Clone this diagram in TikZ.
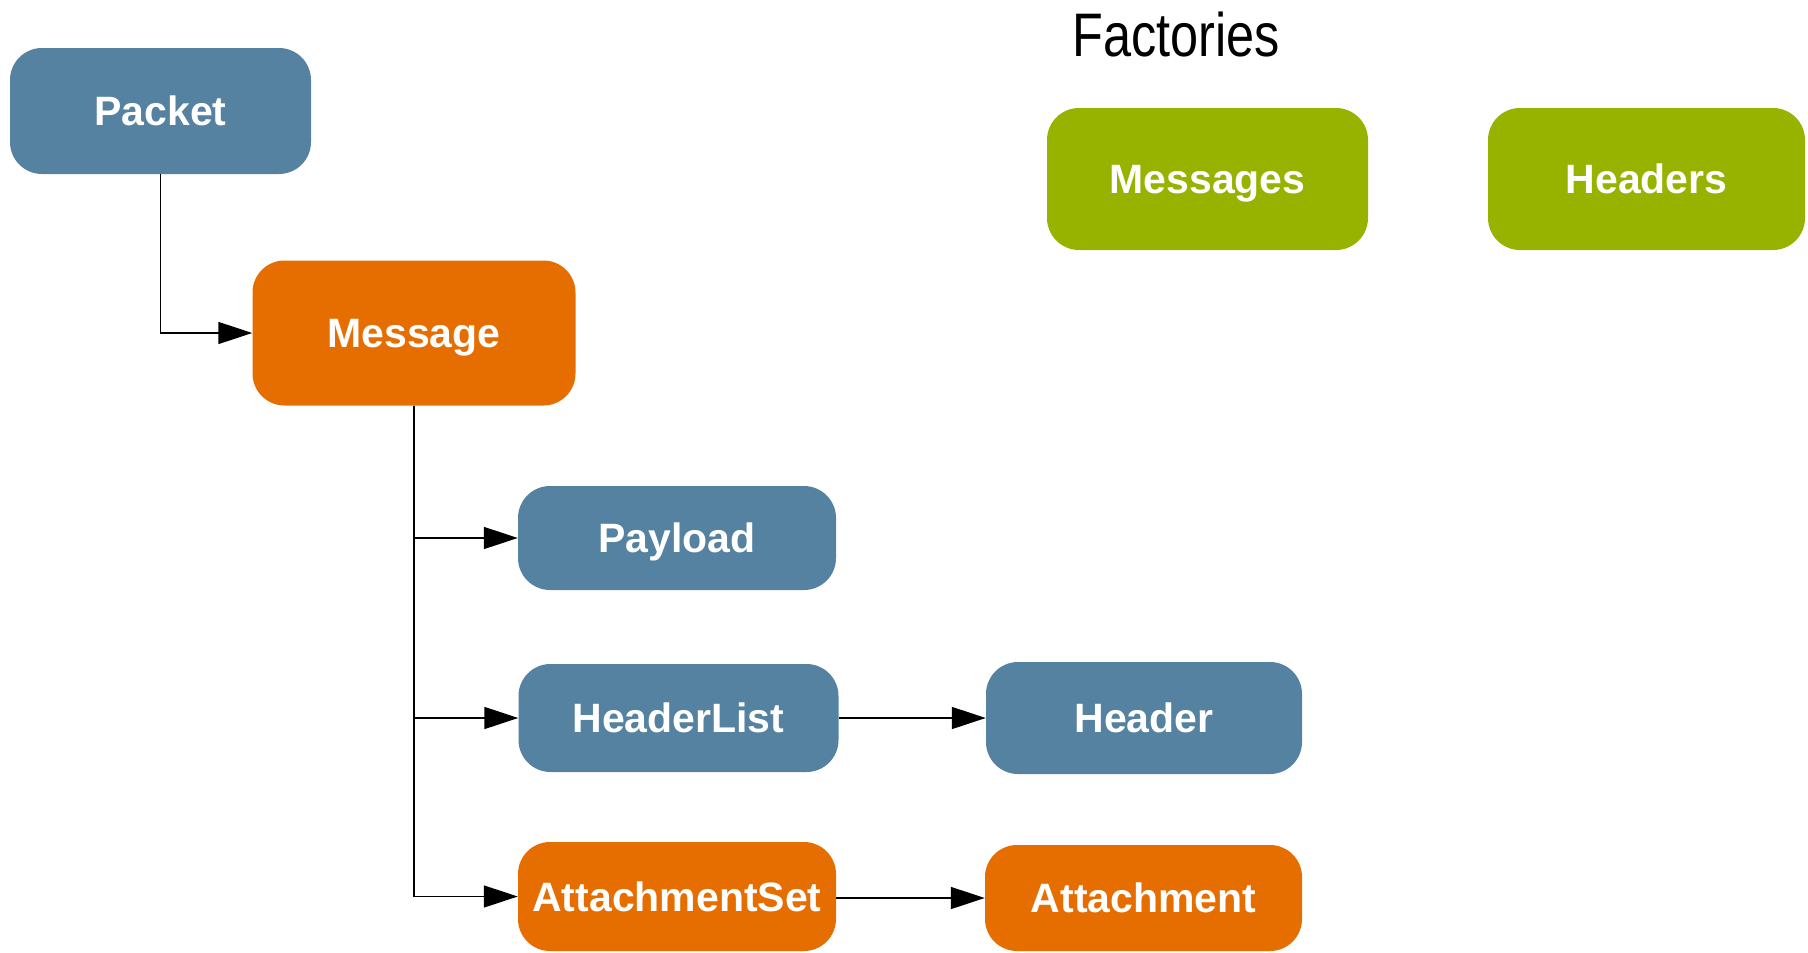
\documentclass[tikz,border=0pt]{standalone}
\usepackage{fontspec}
\setmainfont{Liberation Sans}
\usetikzlibrary{arrows.meta}
\definecolor{cblue}{HTML}{5482A0}
\definecolor{corange}{HTML}{E66E00}
\definecolor{cgreen}{HTML}{97B300}
\tikzset{
  box/.style={rounded corners=32pt, inner sep=0pt, text=white,
    text height=29.5pt, text depth=0pt,
    font=\fontsize{41}{49}\selectfont\bfseries},
  bluebox/.style={box, fill=cblue},
  orangebox/.style={box, fill=corange},
  greenbox/.style={box, fill=cgreen},
  conn/.style={draw=black, line width=1.5pt, -{Triangle[length=34pt,width=22pt]}}
}
\begin{document}
\begin{tikzpicture}[x=1pt,y=-1pt]
\useasboundingbox (0,0) rectangle (1808,953);
\node[bluebox, minimum width=301pt, minimum height=126pt] (packet) at (160.5,111) {Packet};
\node[orangebox, minimum width=323pt, minimum height=145pt] (message) at (414,333) {Message};
\node[bluebox, minimum width=318pt, minimum height=104pt] (payload) at (677,538) {Payload};
\node[bluebox, minimum width=320pt, minimum height=108pt] (headerlist) at (678.5,718) {HeaderList};
\node[orangebox, minimum width=318pt, minimum height=109pt] (attachmentset) at (677,896.5) {AttachmentSet};
\node[bluebox, minimum width=316pt, minimum height=112pt] (header) at (1144,718) {Header};
\node[orangebox, minimum width=317pt, minimum height=106pt] (attachment) at (1143.5,898) {Attachment};
\node[greenbox, minimum width=321pt, minimum height=142pt] (messages) at (1207.5,179) {Messages};
\node[greenbox, minimum width=317pt, minimum height=142pt] (headers) at (1646.5,179) {Headers};
\node[anchor=base, inner sep=0pt, xscale=0.82, font=\fontsize{61.5}{70}\selectfont] (factories) at (1176.5,56.7) {Factories};
\draw[conn] (packet.south) |- (message.west);
\draw[conn] (message.south) |- (payload.west);
\draw[conn] (message.south) |- (headerlist.west);
\draw[conn] (message.south) |- (attachmentset.west);
\draw[conn] (headerlist.east) -- (header.west);
\draw[conn] (attachmentset.east |- attachment.west) -- (attachment.west);
\end{tikzpicture}
\end{document}
